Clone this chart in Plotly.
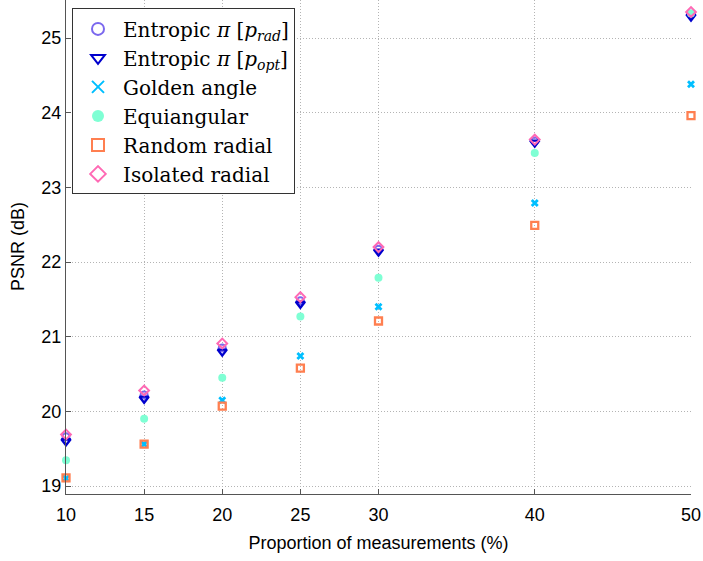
import plotly.graph_objects as go

proportions = [10, 15, 20, 25, 30, 40, 50]
entropic_rad = [19.66, 20.22, 20.85, 21.48, 22.17, 23.62, 25.32]
entropic_opt = [19.60, 20.17, 20.80, 21.44, 22.14, 23.60, 25.29]
golden_angle = [19.10, 19.56, 20.15, 20.74, 21.40, 22.79, 24.38]
equiangular = [19.345, 19.90, 20.45, 21.27, 21.79, 23.46, 25.33]
random_radial = [19.11, 19.56, 20.07, 20.58, 21.21, 22.49, 23.96]
isolated_radial = [19.69, 20.28, 20.91, 21.53, 22.20, 23.64, 25.35]

series_names = [
    "Entropic <i>π</i> [<i>p</i><sub><i>rad</i></sub>]",
    "Entropic <i>π</i> [<i>p</i><sub><i>opt</i></sub>]",
    "Golden angle",
    "Equiangular",
    "Random radial",
    "Isolated radial",
]
x_ticks = [10, 15, 20, 25, 30, 40, 50]
y_ticks = [19, 20, 21, 22, 23, 24, 25]

styles = [
    dict(symbol="circle-open", color="#7B68EE", size=7, line=dict(width=2, color="#7B68EE")),
    dict(symbol="triangle-down-open", color="#0000CD", size=8, line=dict(width=2.4, color="#0000CD")),
    dict(symbol="x-thin-open", color="#00BFFF", size=6, line=dict(width=2.8, color="#00BFFF")),
    dict(symbol="circle", color="#7FFFD4", size=8, line=dict(width=0)),
    dict(symbol="square-open", color="#FF7F50", size=7, line=dict(width=2.3, color="#FF7F50")),
    dict(symbol="diamond-open", color="#FF69B4", size=7.5, line=dict(width=2, color="#FF69B4")),
]
data = [entropic_rad, entropic_opt, golden_angle, equiangular, random_radial, isolated_radial]

fig = go.Figure()
for name, ys, st in zip(series_names, data, styles):
    fig.add_trace(go.Scatter(x=proportions, y=ys, mode="markers", name=name, marker=st,
                             cliponaxis=False))

axis_color = "#555555"
grid_color = "#b4b4b4"
fig.update_layout(
    width=703, height=561,
    margin=dict(l=66, r=12, t=0, b=67),
    paper_bgcolor="white", plot_bgcolor="white",
    font=dict(family="Liberation Sans, Arial, sans-serif", size=18, color="black"),
    showlegend=True,
    legend=dict(
        x=0.0096, y=0.983, xanchor="left", yanchor="top",
        bgcolor="white", bordercolor="#333333", borderwidth=1,
        font=dict(family="DejaVu Serif, Liberation Serif, serif", size=20, color="black"),
        itemsizing="constant", itemwidth=40,
    ),
    xaxis=dict(
        range=[10, 50], tickvals=x_ticks, ticktext=[str(v) for v in x_ticks],
        showgrid=True, gridcolor=grid_color, griddash="1px,2px", gridwidth=1,
        showline=True, linecolor=axis_color, linewidth=1.2, mirror=False,
        ticks="inside", ticklen=5, tickcolor=axis_color, ticklabelstandoff=4,
        zeroline=False, automargin=False,
        title=dict(text="Proportion of measurements (%)", font=dict(size=18), standoff=12),
    ),
    yaxis=dict(
        range=[18.893, 25.51], tickvals=y_ticks, ticktext=[str(v) for v in y_ticks],
        showgrid=True, gridcolor=grid_color, griddash="1px,2px", gridwidth=1,
        showline=True, linecolor=axis_color, linewidth=1.2, mirror=False,
        ticks="inside", ticklen=5, tickcolor=axis_color,
        zeroline=False, automargin=False,
    ),
    annotations=[dict(
        text="PSNR (dB)", textangle=-90, showarrow=False,
        xref="paper", yref="paper", x=-(66 - 18) / 625, y=0.5,
        xanchor="center", yanchor="middle", font=dict(size=18),
    )],
)

fig.write_html("out.html", post_script="document.body.style.margin='0';",
               config={"displayModeBar": False})
